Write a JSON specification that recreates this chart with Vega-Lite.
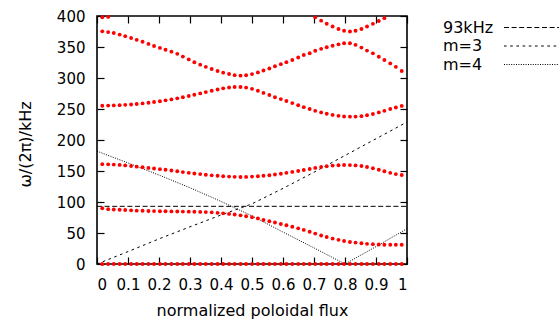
{
  "$schema": "https://vega.github.io/schema/vega-lite/v6.json",
  "width": 310,
  "height": 248,
  "autosize": {"type": "none"},
  "padding": {"left": 97, "top": 16, "right": 152, "bottom": 60},
  "background": "white",
  "config": {
    "font": "DejaVu Sans",
    "view": {"stroke": "black", "strokeWidth": 1.6},
    "axis": {
      "grid": false,
      "domain": false,
      "tickColor": "black",
      "tickWidth": 1.2,
      "tickSize": -7,
      "labelColor": "black",
      "labelFontSize": 15,
      "titleColor": "black",
      "titleFontSize": 16,
      "titleFontWeight": "normal"
    }
  },
  "datasets": {
    "dots": [
      {"x":0.017,"b":"A","y":0},{"x":0.036,"b":"A","y":0},{"x":0.054,"b":"A","y":0},{"x":0.073,"b":"A","y":0},{"x":0.091,"b":"A","y":0},{"x":0.110,"b":"A","y":0},{"x":0.128,"b":"A","y":0},{"x":0.147,"b":"A","y":0},{"x":0.166,"b":"A","y":0},{"x":0.184,"b":"A","y":0},{"x":0.203,"b":"A","y":0},{"x":0.221,"b":"A","y":0},{"x":0.240,"b":"A","y":0},{"x":0.259,"b":"A","y":0},{"x":0.277,"b":"A","y":0},{"x":0.296,"b":"A","y":0},{"x":0.314,"b":"A","y":0},{"x":0.333,"b":"A","y":0},{"x":0.351,"b":"A","y":0},{"x":0.370,"b":"A","y":0},{"x":0.389,"b":"A","y":0},{"x":0.407,"b":"A","y":0},{"x":0.426,"b":"A","y":0},{"x":0.444,"b":"A","y":0},{"x":0.463,"b":"A","y":0},{"x":0.481,"b":"A","y":0},{"x":0.500,"b":"A","y":0},{"x":0.519,"b":"A","y":0},{"x":0.537,"b":"A","y":0},{"x":0.556,"b":"A","y":0},{"x":0.574,"b":"A","y":0},{"x":0.593,"b":"A","y":0},{"x":0.611,"b":"A","y":0},{"x":0.630,"b":"A","y":0},{"x":0.649,"b":"A","y":0},{"x":0.667,"b":"A","y":0},{"x":0.686,"b":"A","y":0},{"x":0.704,"b":"A","y":0},{"x":0.723,"b":"A","y":0},{"x":0.741,"b":"A","y":0},{"x":0.760,"b":"A","y":0},{"x":0.779,"b":"A","y":0},{"x":0.797,"b":"A","y":0},{"x":0.816,"b":"A","y":0},{"x":0.834,"b":"A","y":0},{"x":0.853,"b":"A","y":0},{"x":0.871,"b":"A","y":0},{"x":0.890,"b":"A","y":0},{"x":0.909,"b":"A","y":0},{"x":0.927,"b":"A","y":0},{"x":0.946,"b":"A","y":0},{"x":0.964,"b":"A","y":0},{"x":0.983,"b":"A","y":0},
      {"x":0.017,"b":"B","y":90},{"x":0.036,"b":"B","y":88.5},{"x":0.054,"b":"B","y":88},{"x":0.073,"b":"B","y":87.5},{"x":0.091,"b":"B","y":87},{"x":0.110,"b":"B","y":86.5},{"x":0.128,"b":"B","y":86},{"x":0.147,"b":"B","y":85.8},{"x":0.166,"b":"B","y":85.5},{"x":0.184,"b":"B","y":85.3},{"x":0.203,"b":"B","y":85},{"x":0.221,"b":"B","y":85},{"x":0.240,"b":"B","y":84.8},{"x":0.259,"b":"B","y":84.7},{"x":0.277,"b":"B","y":84.5},{"x":0.296,"b":"B","y":84.4},{"x":0.314,"b":"B","y":84.3},{"x":0.333,"b":"B","y":84},{"x":0.351,"b":"B","y":83.7},{"x":0.370,"b":"B","y":83.3},{"x":0.389,"b":"B","y":82.5},{"x":0.407,"b":"B","y":81.7},{"x":0.426,"b":"B","y":80.8},{"x":0.444,"b":"B","y":79.8},{"x":0.463,"b":"B","y":78.5},{"x":0.481,"b":"B","y":77},{"x":0.500,"b":"B","y":75.5},{"x":0.519,"b":"B","y":73.5},{"x":0.537,"b":"B","y":71},{"x":0.556,"b":"B","y":69},{"x":0.574,"b":"B","y":67},{"x":0.593,"b":"B","y":64.5},{"x":0.611,"b":"B","y":62.5},{"x":0.630,"b":"B","y":60},{"x":0.649,"b":"B","y":57.5},{"x":0.667,"b":"B","y":55},{"x":0.686,"b":"B","y":52},{"x":0.704,"b":"B","y":49},{"x":0.723,"b":"B","y":46},{"x":0.741,"b":"B","y":43.5},{"x":0.760,"b":"B","y":41},{"x":0.779,"b":"B","y":39},{"x":0.797,"b":"B","y":37},{"x":0.816,"b":"B","y":35.5},{"x":0.834,"b":"B","y":34.5},{"x":0.853,"b":"B","y":33.5},{"x":0.871,"b":"B","y":32.5},{"x":0.890,"b":"B","y":32},{"x":0.909,"b":"B","y":31.5},{"x":0.927,"b":"B","y":31},{"x":0.946,"b":"B","y":31},{"x":0.964,"b":"B","y":31},{"x":0.983,"b":"B","y":31},
      {"x":0.017,"b":"C","y":161},{"x":0.036,"b":"C","y":160.7},{"x":0.054,"b":"C","y":160.3},{"x":0.073,"b":"C","y":159.8},{"x":0.091,"b":"C","y":159},{"x":0.110,"b":"C","y":158},{"x":0.128,"b":"C","y":157},{"x":0.147,"b":"C","y":156},{"x":0.166,"b":"C","y":155},{"x":0.184,"b":"C","y":154},{"x":0.203,"b":"C","y":153},{"x":0.221,"b":"C","y":152},{"x":0.240,"b":"C","y":150.8},{"x":0.259,"b":"C","y":149.5},{"x":0.277,"b":"C","y":148.2},{"x":0.296,"b":"C","y":147},{"x":0.314,"b":"C","y":146},{"x":0.333,"b":"C","y":145},{"x":0.351,"b":"C","y":144},{"x":0.370,"b":"C","y":143},{"x":0.389,"b":"C","y":142.3},{"x":0.407,"b":"C","y":141.6},{"x":0.426,"b":"C","y":141},{"x":0.444,"b":"C","y":140.6},{"x":0.463,"b":"C","y":140.4},{"x":0.481,"b":"C","y":140.5},{"x":0.500,"b":"C","y":141},{"x":0.519,"b":"C","y":141.5},{"x":0.537,"b":"C","y":142.3},{"x":0.556,"b":"C","y":143.2},{"x":0.574,"b":"C","y":144.3},{"x":0.593,"b":"C","y":145.5},{"x":0.611,"b":"C","y":147},{"x":0.630,"b":"C","y":148.5},{"x":0.649,"b":"C","y":150},{"x":0.667,"b":"C","y":151.7},{"x":0.686,"b":"C","y":153.3},{"x":0.704,"b":"C","y":155},{"x":0.723,"b":"C","y":156.5},{"x":0.741,"b":"C","y":157.7},{"x":0.760,"b":"C","y":158.7},{"x":0.779,"b":"C","y":159.3},{"x":0.797,"b":"C","y":159.6},{"x":0.816,"b":"C","y":159.5},{"x":0.834,"b":"C","y":159},{"x":0.853,"b":"C","y":158},{"x":0.871,"b":"C","y":156.5},{"x":0.890,"b":"C","y":154.5},{"x":0.909,"b":"C","y":152},{"x":0.927,"b":"C","y":149.5},{"x":0.946,"b":"C","y":147},{"x":0.964,"b":"C","y":145},{"x":0.983,"b":"C","y":143.5},
      {"x":0.017,"b":"D","y":255.3},{"x":0.036,"b":"D","y":255.5},{"x":0.054,"b":"D","y":255.8},{"x":0.073,"b":"D","y":256.2},{"x":0.091,"b":"D","y":256.7},{"x":0.110,"b":"D","y":257.3},{"x":0.128,"b":"D","y":258},{"x":0.147,"b":"D","y":259},{"x":0.166,"b":"D","y":260},{"x":0.184,"b":"D","y":261.2},{"x":0.203,"b":"D","y":262.5},{"x":0.221,"b":"D","y":264},{"x":0.240,"b":"D","y":265.5},{"x":0.259,"b":"D","y":267.2},{"x":0.277,"b":"D","y":269},{"x":0.296,"b":"D","y":271},{"x":0.314,"b":"D","y":273},{"x":0.333,"b":"D","y":275.2},{"x":0.351,"b":"D","y":277.3},{"x":0.370,"b":"D","y":279.5},{"x":0.389,"b":"D","y":281.5},{"x":0.407,"b":"D","y":283.3},{"x":0.426,"b":"D","y":284.6},{"x":0.444,"b":"D","y":285.4},{"x":0.463,"b":"D","y":285.4},{"x":0.481,"b":"D","y":284.5},{"x":0.500,"b":"D","y":282.5},{"x":0.519,"b":"D","y":279.5},{"x":0.537,"b":"D","y":276},{"x":0.556,"b":"D","y":272.5},{"x":0.574,"b":"D","y":269},{"x":0.593,"b":"D","y":266},{"x":0.611,"b":"D","y":263},{"x":0.630,"b":"D","y":259.5},{"x":0.649,"b":"D","y":256},{"x":0.667,"b":"D","y":253},{"x":0.686,"b":"D","y":250},{"x":0.704,"b":"D","y":247},{"x":0.723,"b":"D","y":244.5},{"x":0.741,"b":"D","y":242.3},{"x":0.760,"b":"D","y":240.5},{"x":0.779,"b":"D","y":239},{"x":0.797,"b":"D","y":238},{"x":0.816,"b":"D","y":237.6},{"x":0.834,"b":"D","y":237.8},{"x":0.853,"b":"D","y":238.5},{"x":0.871,"b":"D","y":240},{"x":0.890,"b":"D","y":242},{"x":0.909,"b":"D","y":244.5},{"x":0.927,"b":"D","y":247},{"x":0.946,"b":"D","y":250},{"x":0.964,"b":"D","y":252.5},{"x":0.983,"b":"D","y":255},
      {"x":0.017,"b":"E","y":375.3},{"x":0.036,"b":"E","y":374},{"x":0.054,"b":"E","y":372.5},{"x":0.073,"b":"E","y":370},{"x":0.091,"b":"E","y":367.5},{"x":0.110,"b":"E","y":364.5},{"x":0.128,"b":"E","y":361.5},{"x":0.147,"b":"E","y":358.5},{"x":0.166,"b":"E","y":355},{"x":0.184,"b":"E","y":351.7},{"x":0.203,"b":"E","y":348.5},{"x":0.221,"b":"E","y":345.5},{"x":0.240,"b":"E","y":342.5},{"x":0.259,"b":"E","y":339},{"x":0.277,"b":"E","y":334.5},{"x":0.296,"b":"E","y":330},{"x":0.314,"b":"E","y":325.5},{"x":0.333,"b":"E","y":321.5},{"x":0.351,"b":"E","y":318},{"x":0.370,"b":"E","y":314.5},{"x":0.389,"b":"E","y":311.3},{"x":0.407,"b":"E","y":308.6},{"x":0.426,"b":"E","y":306.5},{"x":0.444,"b":"E","y":304.6},{"x":0.463,"b":"E","y":303.8},{"x":0.481,"b":"E","y":304.5},{"x":0.500,"b":"E","y":306.3},{"x":0.519,"b":"E","y":309},{"x":0.537,"b":"E","y":312},{"x":0.556,"b":"E","y":315.3},{"x":0.574,"b":"E","y":319},{"x":0.593,"b":"E","y":322.3},{"x":0.611,"b":"E","y":325.6},{"x":0.630,"b":"E","y":329},{"x":0.649,"b":"E","y":333},{"x":0.667,"b":"E","y":337},{"x":0.686,"b":"E","y":340},{"x":0.704,"b":"E","y":344},{"x":0.723,"b":"E","y":347},{"x":0.741,"b":"E","y":349.6},{"x":0.760,"b":"E","y":352},{"x":0.779,"b":"E","y":354.3},{"x":0.797,"b":"E","y":356},{"x":0.816,"b":"E","y":356},{"x":0.834,"b":"E","y":353.5},{"x":0.853,"b":"E","y":349},{"x":0.871,"b":"E","y":344.2},{"x":0.890,"b":"E","y":339.8},{"x":0.909,"b":"E","y":334.3},{"x":0.927,"b":"E","y":329},{"x":0.946,"b":"E","y":323.5},{"x":0.964,"b":"E","y":318},{"x":0.983,"b":"E","y":311.3},
      {"x":0.017,"b":"F","y":398},{"x":0.036,"b":"F","y":398.5},{"x":0.704,"b":"F","y":397.8},{"x":0.723,"b":"F","y":392.5},{"x":0.741,"b":"F","y":387.5},{"x":0.760,"b":"F","y":383},{"x":0.779,"b":"F","y":379},{"x":0.797,"b":"F","y":376.3},{"x":0.816,"b":"F","y":375},{"x":0.834,"b":"F","y":376.3},{"x":0.853,"b":"F","y":379},{"x":0.871,"b":"F","y":383},{"x":0.890,"b":"F","y":387.3},{"x":0.909,"b":"F","y":392},{"x":0.927,"b":"F","y":396.5}
    ],
    "lines": [
      {"x":0,"y":93,"s":"93kHz"},{"x":1,"y":93,"s":"93kHz"},
      {"x":0,"y":0,"s":"m=3"},{"x":0.1,"y":20,"s":"m=3"},{"x":0.2,"y":40.5,"s":"m=3"},{"x":0.3,"y":60,"s":"m=3"},{"x":0.4,"y":79,"s":"m=3"},{"x":0.5,"y":97,"s":"m=3"},{"x":0.6,"y":122,"s":"m=3"},{"x":0.7,"y":148,"s":"m=3"},{"x":0.8,"y":175,"s":"m=3"},{"x":0.9,"y":202,"s":"m=3"},{"x":1,"y":229,"s":"m=3"},
      {"x":0,"y":182,"s":"m=4"},{"x":0.1,"y":163,"s":"m=4"},{"x":0.2,"y":143.5,"s":"m=4"},{"x":0.3,"y":123,"s":"m=4"},{"x":0.4,"y":101,"s":"m=4"},{"x":0.5,"y":77.5,"s":"m=4"},{"x":0.6,"y":51.5,"s":"m=4"},{"x":0.7,"y":26,"s":"m=4"},{"x":0.8,"y":0,"s":"m=4"},{"x":0.9,"y":28,"s":"m=4"},{"x":1,"y":57,"s":"m=4"}
    ]
  },
  "layer": [
    {
      "data": {"name": "lines"},
      "mark": {"type": "line", "color": "black", "strokeWidth": 1, "clip": true},
      "encoding": {
        "x": {"field": "x", "type": "quantitative", "scale": {"domain": [0, 1], "nice": false, "zero": false},
              "axis": {"orient": "top", "values": [0,0.1,0.2,0.3,0.4,0.5,0.6,0.7,0.8,0.9,1], "labels": false, "title": null}},
        "y": {"field": "y", "type": "quantitative", "scale": {"domain": [0, 400], "nice": false},
              "axis": {"orient": "right", "values": [0,50,100,150,200,250,300,350,400], "labels": false, "title": null}},
        "strokeDash": {"field": "s", "type": "nominal",
          "scale": {"domain": ["93kHz", "m=3", "m=4"], "range": [[5, 2.6], [2.6, 3.6], [1, 1.4]]},
          "legend": {"orient": "none", "legendX": 426.5, "legendY": 3.5, "title": null, "padding": 0,
            "symbolType": "M -5.5 0 H 5.5", "symbolSize": 100, "symbolStrokeColor": "black", "symbolStrokeWidth": 1,
            "symbolFillColor": "transparent",
            "labelAlign": "left", "labelOffset": -96.5, "symbolOffset": 0, "labelFontSize": 16, "labelColor": "black",
            "rowPadding": 2.5}}
      }
    },
    {
      "data": {"name": "dots"},
      "mark": {"type": "point", "filled": true, "shape": "circle", "size": 15, "color": "#ff0000", "opacity": 1, "strokeWidth": 0},
      "encoding": {
        "x": {"field": "x", "type": "quantitative", "scale": {"domain": [0, 1], "nice": false, "zero": false},
              "axis": {"orient": "bottom", "values": [0,0.1,0.2,0.3,0.4,0.5,0.6,0.7,0.8,0.9,1], "format": "~g",
                       "labelPadding": 20, "title": "normalized poloidal flux", "titlePadding": 10}},
        "y": {"field": "y", "type": "quantitative", "scale": {"domain": [0, 400], "nice": false},
              "axis": {"orient": "left", "values": [0,50,100,150,200,250,300,350,400],
                       "labelPadding": 19, "title": "ω/(2π)/kHz", "titlePadding": 23, "titleY": 128}},
        "detail": {"field": "b", "type": "nominal"}
      }
    }
  ],
  "resolve": {"axis": {"x": "independent", "y": "independent"}}
}
